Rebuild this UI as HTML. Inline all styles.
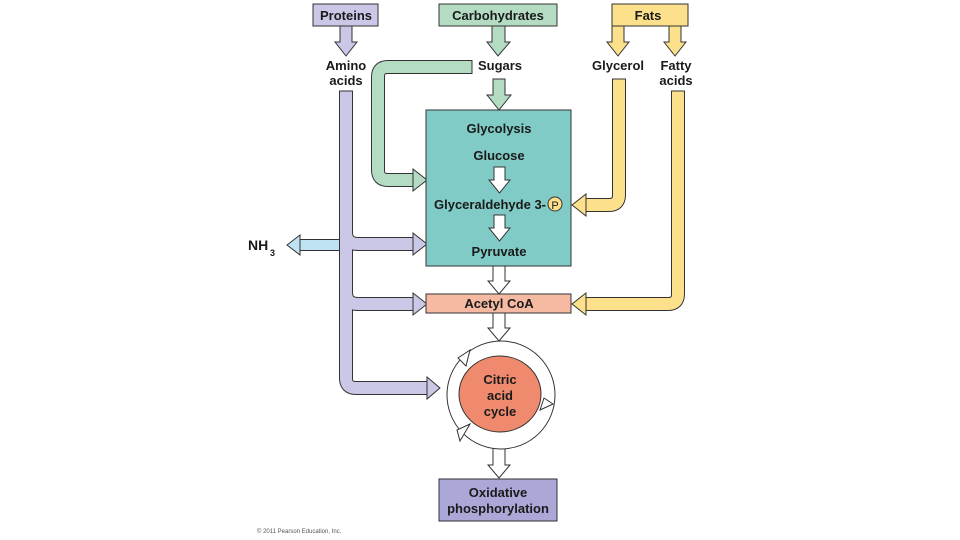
<!DOCTYPE html>
<html><head><meta charset="utf-8"><style>
html,body{margin:0;padding:0;background:#fff;}
svg{display:block;}
text{font-family:"Liberation Sans",Arial,sans-serif;font-weight:bold;fill:#1a1a1a;}
</style></head><body>
<svg width="960" height="540" viewBox="0 0 960 540" xmlns="http://www.w3.org/2000/svg">
<rect x="313" y="4" width="65" height="22" fill="#cbc7e6" stroke="#333" stroke-width="1"/>
<text x="346" y="20" font-size="13" text-anchor="middle">Proteins</text>
<rect x="439" y="4" width="118" height="22" fill="#b3dcc3" stroke="#333" stroke-width="1"/>
<text x="498" y="20" font-size="13" text-anchor="middle">Carbohydrates</text>
<rect x="612" y="4" width="76" height="22" fill="#fde08c" stroke="#333" stroke-width="1"/>
<text x="648" y="20" font-size="13" text-anchor="middle">Fats</text>

<g stroke="#333" stroke-width="1">
<polygon points="340,26 352,26 352,42 357,42 346,56 335,42 340,42" fill="#cbc7e6"/>
<polygon points="492,26 505,26 505,42 510,42 498,56 487,42 492,42" fill="#b3dcc3"/>
<polygon points="612,26 624,26 624,42 629,42 618,56 607,42 612,42" fill="#fde08c"/>
<polygon points="669,26 681,26 681,42 686,42 675,56 664,42 669,42" fill="#fde08c"/>
<polygon points="493,79 505,79 505,95 511,95 499,110 487,95 493,95" fill="#b3dcc3"/>
</g>
<text x="346" y="70" font-size="13" text-anchor="middle">Amino</text>
<text x="346" y="85" font-size="13" text-anchor="middle">acids</text>
<text x="500" y="70" font-size="13" text-anchor="middle">Sugars</text>
<text x="618" y="70" font-size="13" text-anchor="middle">Glycerol</text>
<text x="676" y="70" font-size="13" text-anchor="middle">Fatty</text>
<text x="676" y="85" font-size="13" text-anchor="middle">acids</text>

<path d="M472,67 L388,67 Q378,67 378,77 L378,170 Q378,180 388,180 L414,180" fill="none" stroke="#333" stroke-width="14"/>
<path d="M472,67 L388,67 Q378,67 378,77 L378,170 Q378,180 388,180 L414,180" fill="none" stroke="#b3dcc3" stroke-width="12"/>
<polygon points="413,169 427,180 413,191" fill="#b3dcc3" stroke="#333" stroke-width="1"/>
<line x1="472" y1="60" x2="472" y2="74" stroke="#333" stroke-width="1"/>

<path d="M619,79 L619,195 Q619,205 609,205 L585,205" fill="none" stroke="#333" stroke-width="14"/>
<path d="M619,79 L619,195 Q619,205 609,205 L585,205" fill="none" stroke="#fde08c" stroke-width="12"/>
<polygon points="586,194 572,205 586,216" fill="#fde08c" stroke="#333" stroke-width="1"/>
<line x1="612" y1="79" x2="626" y2="79" stroke="#333" stroke-width="1"/>

<path d="M678,91 L678,294 Q678,304 668,304 L585,304" fill="none" stroke="#333" stroke-width="14"/>
<path d="M678,91 L678,294 Q678,304 668,304 L585,304" fill="none" stroke="#fde08c" stroke-width="12"/>
<polygon points="586,293 572,304 586,315" fill="#fde08c" stroke="#333" stroke-width="1"/>
<line x1="671" y1="91" x2="685" y2="91" stroke="#333" stroke-width="1"/>

<path d="M340,245 L298,245" fill="none" stroke="#333" stroke-width="12"/>
<path d="M342,245 L298,245" fill="none" stroke="#bfe3f3" stroke-width="10"/>
<polygon points="300,235 287,245 300,255" fill="#bfe3f3" stroke="#333" stroke-width="1"/>
<text x="248" y="250" font-size="14">NH</text>
<text x="270" y="256" font-size="9">3</text>

<g fill="none" stroke="#333" stroke-width="14">
<path d="M346,91 L346,378 Q346,388 356,388 L428,388"/>
<path d="M346,232 Q346,244 358,244 L414,244"/>
<path d="M346,292 Q346,304 358,304 L414,304"/>
</g>
<g fill="none" stroke="#cbc7e6" stroke-width="12">
<path d="M346,91 L346,378 Q346,388 356,388 L428,388"/>
<path d="M346,232 Q346,244 358,244 L414,244"/>
<path d="M346,292 Q346,304 358,304 L414,304"/>
</g>
<g fill="#cbc7e6" stroke="#333" stroke-width="1">
<polygon points="413,233 427,244 413,255"/>
<polygon points="413,293 427,304 413,315"/>
<polygon points="427,377 440,388 427,399"/>
</g>
<line x1="339" y1="91" x2="353" y2="91" stroke="#333" stroke-width="1"/>

<rect x="426" y="110" width="145" height="156" fill="#80cbc5" stroke="#333" stroke-width="1"/>
<text x="499" y="133" font-size="13" text-anchor="middle">Glycolysis</text>
<text x="499" y="160" font-size="13" text-anchor="middle">Glucose</text>
<text x="490" y="209" font-size="13" text-anchor="middle">Glyceraldehyde 3-</text>
<circle cx="555" cy="204" r="7" fill="#fde08c" stroke="#333" stroke-width="1"/>
<text x="555" y="209" font-size="11" text-anchor="middle" style="font-weight:normal">P</text>
<text x="499" y="256" font-size="13" text-anchor="middle">Pyruvate</text>
<g fill="#fff" stroke="#333" stroke-width="1">
<polygon points="494,167 505,167 505,180 510,180 499.5,193 489,180 494,180"/>
<polygon points="494,215 505,215 505,228 510,228 499.5,241 489,228 494,228"/>
<polygon points="493,266 505,266 505,281 510,281 499,294 488,281 493,281"/>
<polygon points="493,313 505,313 505,328 510,328 499,341 488,328 493,328"/>
<polygon points="493,447 505,447 505,465 510,465 499,478 488,465 493,465"/>
</g>

<rect x="426" y="294" width="145" height="19" fill="#f6b9a2" stroke="#333" stroke-width="1"/>
<text x="499" y="308" font-size="13" text-anchor="middle">Acetyl CoA</text>

<circle cx="501" cy="395" r="54" fill="#fff" stroke="#333" stroke-width="1"/>
<ellipse cx="500" cy="394" rx="41" ry="38" fill="#f08a6e" stroke="#333" stroke-width="1"/>
<g fill="#fff" stroke="#333" stroke-width="1">
<polygon points="458,358 470,350 466,366"/>
<polygon points="544,398 553,404 540,410"/>
<polygon points="470,424 457,430 460,441"/>
</g>
<text x="500" y="384" font-size="13" text-anchor="middle">Citric</text>
<text x="500" y="400" font-size="13" text-anchor="middle">acid</text>
<text x="500" y="416" font-size="13" text-anchor="middle">cycle</text>

<rect x="439" y="479" width="118" height="42" fill="#aba7d7" stroke="#333" stroke-width="1"/>
<text x="498" y="497" font-size="13" text-anchor="middle">Oxidative</text>
<text x="498" y="513" font-size="13" text-anchor="middle">phosphorylation</text>

<text x="257" y="533" font-size="6" style="font-weight:normal;fill:#555">© 2011 Pearson Education, Inc.</text>
</svg>
</body></html>
